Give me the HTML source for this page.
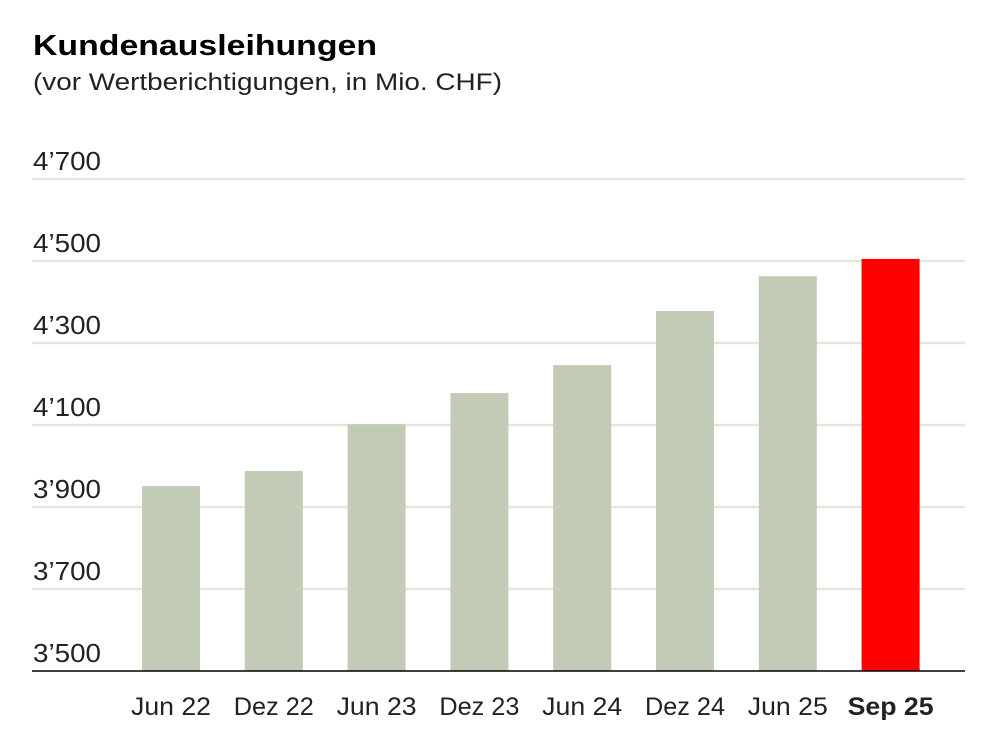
<!DOCTYPE html>
<html><head><meta charset="utf-8"><style>
body{margin:0;background:#fff;width:1000px;height:750px;overflow:hidden;font-family:"Liberation Sans",sans-serif}
</style></head><body>
<svg width="1000" height="750">
<text x="33" y="55" font-size="29" font-weight="bold" fill="#000" textLength="344" lengthAdjust="spacingAndGlyphs">Kundenausleihungen</text>
<text x="33" y="90" font-size="24" fill="#222" textLength="469" lengthAdjust="spacingAndGlyphs">(vor Wertberichtigungen, in Mio. CHF)</text>
<g id="grid"></g><g id="bars"></g><g id="xl"></g>
</svg>
<script>
const categories=["Jun 22","Dez 22","Jun 23","Dez 23","Jun 24","Dez 24","Jun 25","Sep 25"];
const values=[3951,3988,4102,4178,4246,4378,4463,4505];
const ticks=[3500,3700,3900,4100,4300,4500,4700];
const tickLabels=["3’500","3’700","3’900","4’100","4’300","4’500","4’700"];
const ns="http://www.w3.org/2000/svg";
const y=v=>671-(v-3500)*0.41;
const x=i=>142+i*102.8;
function mk(t,a,p){const e=document.createElementNS(ns,t);for(const k in a)e.setAttribute(k,a[k]);p.appendChild(e);return e;}
const g=document.getElementById('grid'),b=document.getElementById('bars'),xl=document.getElementById('xl');
ticks.forEach((t,i)=>{
 if(i>0){const l=mk('line',{x1:32,x2:965,y1:y(t),y2:y(t),stroke:'#e3e6d8','stroke-width':2.5},g);
 
 }
 const tx=mk('text',{x:33,y:y(t)-9,'font-size':26,fill:'#222',textLength:68,lengthAdjust:'spacingAndGlyphs'},g);tx.textContent=tickLabels[i];
 
 
});
values.forEach((v,i)=>{
 const last=i==values.length-1;
 const r=mk('rect',{x:x(i),y:y(v),width:58,height:671-y(v),fill:last?'#ff0000':'#c1cbb5'},b);
 
 
 const t=mk('text',{x:x(i)+29,y:715,'font-size':25,'text-anchor':'middle',fill:'#222','font-weight':last?'bold':'normal',textLength:last?86:80,lengthAdjust:'spacingAndGlyphs'},xl);
 t.textContent=categories[i];
 
 
});
const ax=mk('line',{x1:32,x2:965,y1:671,y2:671,stroke:'#000','stroke-width':1.5},xl);


</script>
</body></html>
